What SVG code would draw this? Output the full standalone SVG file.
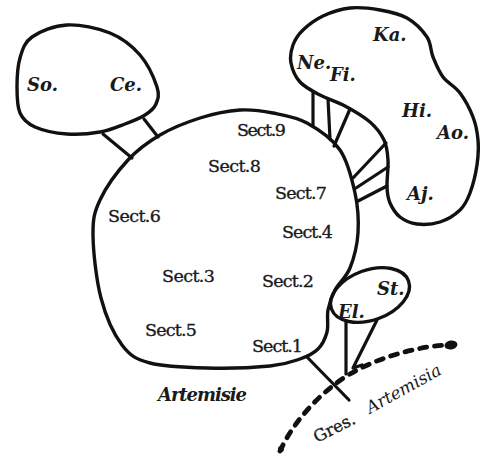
<svg xmlns="http://www.w3.org/2000/svg" width="480" height="457" viewBox="0 0 480 457">
<style>
.ol{fill:none;stroke:#111;stroke-width:3.4;stroke-linejoin:round;stroke-linecap:round}
.ln{fill:none;stroke:#111;stroke-width:3.2;stroke-linecap:round;stroke-linejoin:round}
.dash{fill:none;stroke:#111;stroke-width:4.8;stroke-linecap:round;stroke-dasharray:7 8}
.sec{font-family:"DejaVu Serif","Liberation Serif",serif;font-size:17.5px;fill:#1a1a1a;stroke:#1a1a1a;stroke-width:0.35}
.it{font-family:"DejaVu Serif","Liberation Serif",serif;font-size:18px;font-style:italic;font-weight:bold;fill:#1a1a1a}
</style>
<rect width="480" height="457" fill="#fff"/>
<g id="connectors">
<line class="ln" x1="103" y1="134" x2="132" y2="158"/>
<line class="ln" x1="144" y1="119" x2="158" y2="137"/>
<line class="ln" x1="313" y1="92" x2="313" y2="126"/>
<line class="ln" x1="328" y1="99" x2="330" y2="139"/>
<line class="ln" x1="350" y1="109" x2="334" y2="146"/>
<line class="ln" x1="386" y1="143" x2="353" y2="178"/>
<line class="ln" x1="388" y1="167" x2="356" y2="188"/>
<line class="ln" x1="387" y1="186" x2="358" y2="201"/>
<line class="ln" x1="346" y1="321" x2="346" y2="374"/>
<polyline class="ln" points="377,320 353,368 362,365"/>
<line class="ln" x1="307" y1="357" x2="349" y2="400"/>
<path class="dash" d="M 280 451 C 292 425, 315 397, 345 377 C 375 358, 415 347, 446 345"/>
<ellipse cx="451" cy="345" rx="6.5" ry="4.5" transform="rotate(-8 451 345)" fill="#111"/>
<circle cx="281" cy="449" r="3" fill="#111"/>
</g>
<g id="main">
<path class="ol" d="M 240 110 C 252.2 109.2, 261.8 110.8, 273 113 C 284.2 115.2, 295.8 116.8, 307 123 C 318.2 129.2, 332 138.3, 340 150 C 348 161.7, 352 179.2, 355 193 C 358 206.8, 358.8 220.5, 358 233 C 357.2 245.5, 353.8 258.5, 350 268 C 346.2 277.5, 338.7 283, 335 290 C 331.3 297, 329.3 303, 328 310 C 326.7 317, 328.7 325.5, 327 332 C 325.3 338.5, 322.5 344.5, 318 349 C 313.5 353.5, 308 356.2, 300 359 C 292 361.8, 285.5 364.5, 270 366 C 254.5 367.5, 227 368.5, 207 368 C 187 367.5, 164.2 366.8, 150 363 C 135.8 359.2, 130.2 355.8, 122 345 C 113.8 334.2, 105.8 316.3, 101 298 C 96.2 279.7, 93.2 251.3, 93 235 C 92.8 218.7, 94.2 212.5, 100 200 C 105.8 187.5, 118 170.8, 128 160 C 138 149.2, 148 142, 160 135 C 172 128, 186.7 122.2, 200 118 C 213.3 113.8, 227.8 110.8, 240 110 Z"/>
<text class="sec" x="237" y="136" textLength="49">Sect.9</text>
<text class="sec" x="208" y="172" textLength="53">Sect.8</text>
<text class="sec" x="275" y="199" textLength="52">Sect.7</text>
<text class="sec" x="282" y="238" textLength="51">Sect.4</text>
<text class="sec" x="108" y="222" textLength="53">Sect.6</text>
<text class="sec" x="162" y="282" textLength="53">Sect.3</text>
<text class="sec" x="262" y="287" textLength="52">Sect.2</text>
<text class="sec" x="145" y="336" textLength="52">Sect.5</text>
<text class="sec" x="252" y="352" textLength="51">Sect.1</text>
</g>
<g id="so-ce">
<path class="ol" d="M 67 25 C 80 24.3, 97.8 28, 110 33 C 122.2 38, 132.2 46, 140 55 C 147.8 64, 154.3 78.8, 157 87 C 159.7 95.2, 158 99.3, 156 104 C 154 108.7, 150.2 111.7, 145 115 C 139.8 118.3, 132.5 121.2, 125 124 C 117.5 126.8, 109.7 130.3, 100 132 C 90.3 133.7, 77.8 134.8, 67 134 C 56.2 133.2, 42.8 130.5, 35 127 C 27.2 123.5, 23 119.7, 20 113 C 17 106.3, 17 96.2, 17 87 C 17 77.8, 17.5 66.3, 20 58 C 22.5 49.7, 24.2 42.5, 32 37 C 39.8 31.5, 54 25.7, 67 25 Z"/>
<text class="it" x="27" y="91">So.</text>
<text class="it" x="110" y="91">Ce.</text>
</g>
<g id="ne-ka">
<path class="ol" d="M 350 8 C 359.5 7, 370.5 8.3, 380 10 C 389.5 11.7, 399.2 13.5, 407 18 C 414.8 22.5, 422.7 30.5, 427 37 C 431.3 43.5, 430.3 50.3, 433 57 C 435.7 63.7, 438.5 71, 443 77 C 447.5 83, 455 86.3, 460 93 C 465 99.7, 470 109.2, 473 117 C 476 124.8, 477.3 132, 478 140 C 478.7 148, 478.3 156.2, 477 165 C 475.7 173.8, 472.8 185.5, 470 193 C 467.2 200.5, 465 205.2, 460 210 C 455 214.8, 447.2 219.7, 440 222 C 432.8 224.3, 423.7 224.8, 417 224 C 410.3 223.2, 404.5 220.5, 400 217 C 395.5 213.5, 392.2 208, 390 203 C 387.8 198, 387.3 194.2, 387 187 C 386.7 179.8, 388.5 167.8, 388 160 C 387.5 152.2, 387 146.3, 384 140 C 381 133.7, 376.5 127.7, 370 122 C 363.5 116.3, 353.3 110.5, 345 106 C 336.7 101.5, 327.5 99, 320 95 C 312.5 91, 304.8 87.3, 300 82 C 295.2 76.7, 292.2 69.2, 291 63 C 289.8 56.8, 291 50.5, 293 45 C 295 39.5, 298 34.8, 303 30 C 308 25.2, 315.2 19.7, 323 16 C 330.8 12.3, 340.5 9, 350 8 Z"/>
<text class="it" x="297" y="69">Ne.</text>
<text class="it" x="330" y="81">Fi.</text>
<text class="it" x="373" y="41">Ka.</text>
<text class="it" x="402" y="117">Hi.</text>
<text class="it" x="437" y="139">Ao.</text>
<text class="it" x="407" y="200">Aj.</text>
</g>
<g id="st-el">
<ellipse class="ol" cx="370" cy="295" rx="41" ry="25" transform="rotate(-20 370 295)"/>
<text class="it" x="377" y="295" font-size="16">St.</text>
<text class="it" x="338" y="318" font-size="16">El.</text>
</g>
<g id="labels">
<text x="158" y="401" textLength="89" style="font-family:'DejaVu Serif','Liberation Serif',serif;font-size:18px;font-style:italic;font-weight:bold;fill:#1a1a1a">Artemisie</text>
<text x="317" y="443" transform="rotate(-27 317 443)" style="font-family:'DejaVu Serif','Liberation Serif',serif;font-size:16.5px;fill:#1a1a1a;stroke:#1a1a1a;stroke-width:0.35">Gres.</text>
<text x="370" y="414" transform="rotate(-29 370 414)" style="font-family:'DejaVu Serif','Liberation Serif',serif;font-size:17px;font-style:italic;fill:#1a1a1a">Artemisia</text>
</g>
</svg>
